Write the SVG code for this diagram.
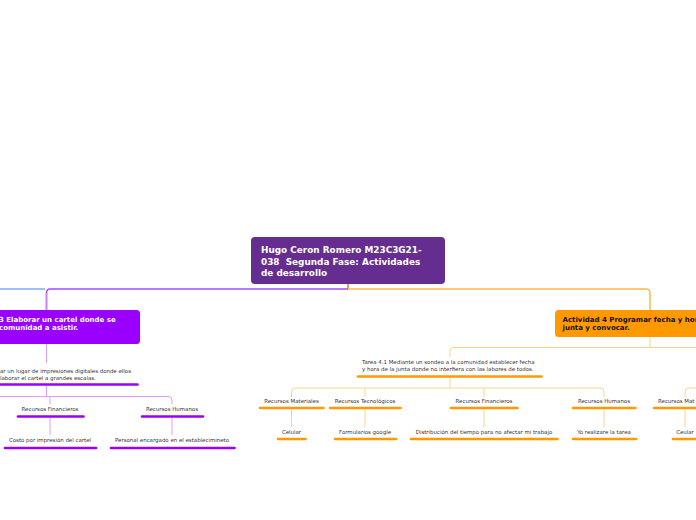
<svg xmlns="http://www.w3.org/2000/svg" width="696" height="520" viewBox="0 0 696 520">
<style>
.t{font-family:"DejaVu Sans",Verdana,sans-serif;font-size:5.45px;fill:#333}
.c{text-anchor:middle}
.nb{font-family:"DejaVu Sans",Verdana,sans-serif;font-weight:bold;font-size:7px}
.mb{font-family:"DejaVu Sans",Verdana,sans-serif;font-weight:bold;font-size:8.9px;fill:#fff}
.ul{stroke-width:2.6;stroke-linecap:round;fill:none}
.up{stroke:#9900ff}
.uo{stroke:#ff9900}
.lp{stroke:#d99cff;stroke-width:1;fill:none}
.lo{stroke:#ffd28a;stroke-width:1;fill:none}
</style>
<rect width="696" height="520" fill="#fff"/>
<g id="connectors">
<path d="M348 284 V289" stroke="#e07a30" stroke-width="1.5" fill="none"/>
<path d="M348 289 H50 Q46.5 289 46.5 293 V310" stroke="#a24dff" stroke-width="1.5" fill="none"/>
<path d="M46.5 293 V310" stroke="#cf80ff" stroke-width="1.5" fill="none"/>
<path d="M0 289 H45" stroke="#7aa8ff" stroke-width="1.5" fill="none"/>
<path d="M348 289 H646 Q650 289 650 293 V310" stroke="#ffb74a" stroke-width="1.5" fill="none"/>
<path class="lp" d="M46.5 344 V363"/>
<path class="lp" d="M46.5 384 V396"/>
<path class="lp" d="M0 396.5 H168 Q172 396.5 172 400 V404 M50 396.5 V404"/>
<path class="lp" d="M50 417 V435 M172 417 V435"/>
<path class="lo" d="M650 337 V347.5 M696 347.5 H454 Q450 347.5 450 351 V357"/>
<path class="lo" d="M450 377 V388"/>
<path class="lo" d="M295 388 H600 Q604 388 604 392 V397 M295 388 Q291.5 388 291.5 392 V397 M365 388 V397 M484 388 V397"/>
<path class="lo" d="M696 388 H689 Q685 388 685 392 V397"/>
<path class="lo" d="M291.5 409 V427 M365 409 V427 M484 409 V427 M604 409 V427 M685 409 V427"/>
</g>
<g id="main">
<rect x="251" y="237" width="194" height="47" rx="4" fill="#662d91"/>
<text class="mb" x="261" y="253.3">Hugo Ceron Romero M23C3G21-</text>
<text class="mb" x="261" y="264.8" xml:space="preserve">038  Segunda Fase: Actividades</text>
<text class="mb" x="261" y="275.6">de desarrollo</text>
</g>
<g id="act3">
<rect x="-10" y="310" width="150" height="34" rx="3.5" fill="#9900ff"/>
<text class="nb" fill="#fff" x="-1" y="322">3 Elaborar un cartel donde se</text>
<text class="nb" fill="#fff" x="-1" y="330.3">comunidad a asistir.</text>
</g>
<g id="tarea3">
<text class="t" x="0" y="372.5">ar un lugar de impresiones digitales donde ellos</text>
<text class="t" x="0" y="379.5">laborar el cartel a grandes escalas.</text>
<path class="ul up" d="M-2 384.5 H137.5"/>
</g>
<g id="rf3">
<text class="t c" x="50" y="411">Recursos Financieros</text>
<path class="ul up" d="M18 416.5 H83.5"/>
</g>
<g id="rh3">
<text class="t c" x="172" y="411">Recursos Humanos</text>
<path class="ul up" d="M142 416.5 H203"/>
</g>
<g id="costo">
<text class="t c" x="50" y="442">Costo por impresión del cartel</text>
<path class="ul up" d="M5 448 H96"/>
</g>
<g id="personal">
<text class="t c" x="172" y="442">Personal encargado en el establecimineto</text>
<path class="ul up" d="M111 448 H234.5"/>
</g>
<g id="act4">
<rect x="555" y="310" width="150" height="27" rx="3.5" fill="#ff9900"/>
<text class="nb" fill="#111" x="562.5" y="322">Actividad 4 Programar fecha y hor</text>
<text class="nb" fill="#111" x="562.5" y="330.3">junta y convocar.</text>
</g>
<g id="tarea41">
<text class="t" x="362" y="364.3">Tarea 4.1 Mediante un sondeo a la comunidad establecer fecha</text>
<text class="t" x="362" y="371">y hora de la junta donde no interfiera con las labores de todos.</text>
<path class="ul uo" d="M358 376.5 H541.5"/>
</g>
<g id="rm">
<text class="t c" x="291.5" y="403">Recursos Materiales</text>
<path class="ul uo" d="M260 408 H323.5"/>
</g>
<g id="rt">
<text class="t c" x="365" y="403">Recursos Tecnológicos</text>
<path class="ul uo" d="M330 408 H400.5"/>
</g>
<g id="rf">
<text class="t c" x="484" y="403">Recursos Financieros</text>
<path class="ul uo" d="M451 408 H517.5"/>
</g>
<g id="rh">
<text class="t c" x="604" y="403">Recursos Humanos</text>
<path class="ul uo" d="M573 408 H635.5"/>
</g>
<g id="rm2">
<text class="t" x="658" y="403">Recursos Mat</text>
<path class="ul uo" d="M654 408 H720"/>
</g>
<g id="celular">
<text class="t c" x="291.5" y="434">Celular</text>
<path class="ul uo" d="M278 439 H305.5"/>
</g>
<g id="formularios">
<text class="t c" x="365" y="434">Formularios google</text>
<path class="ul uo" d="M335 439 H396"/>
</g>
<g id="distribucion">
<text class="t c" x="484" y="434">Distribución del tiempo para no afectar mi trabajo</text>
<path class="ul uo" d="M411 439 H557.5"/>
</g>
<g id="yo">
<text class="t c" x="604" y="434">Yo realizare la tarea</text>
<path class="ul uo" d="M573 439 H636"/>
</g>
<g id="ceular">
<text class="t c" x="685" y="434">Ceular</text>
<path class="ul uo" d="M673 439 H700"/>
</g>
</svg>
